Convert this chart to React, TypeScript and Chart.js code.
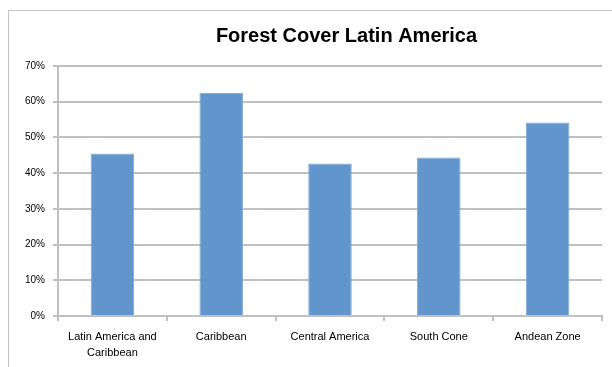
import React, { useEffect, useRef } from "react";
import { Chart, registerables } from "chart.js";

Chart.register(...registerables);

const categories: (string | string[])[] = [
  ["Latin America and", "Caribbean"],
  "Caribbean",
  "Central America",
  "South Cone",
  "Andean Zone",
];
const forestCover: number[] = [45.5, 62.5, 42.7, 44.4, 54.2];
const yTicks: number[] = [0, 10, 20, 30, 40, 50, 60, 70];

const GRID = "#c0c0c0";
const BAR = "#6195cb";
const FONT = "'Liberation Sans', Arial, sans-serif";

export default function App() {
  const ref = useRef<HTMLCanvasElement | null>(null);

  useEffect(() => {
    if (!ref.current) return;
    const chart = new Chart(ref.current, {
      type: "bar",
      data: {
        labels: categories,
        datasets: [
          {
            label: "Forest cover",
            data: forestCover,
            yAxisID: "y",
            backgroundColor: BAR,
            borderColor: "#7ea8d6",
            borderWidth: 1,
            barPercentage: 0.4,
            categoryPercentage: 1,
          },
        ],
      },
      options: {
        responsive: false,
        animation: false,
        layout: { padding: 0 },
        plugins: {
          legend: { display: false },
          tooltip: { enabled: false },
          title: {
            display: true,
            text: "Forest Cover Latin America",
            color: "#000",
            font: { family: FONT, size: 20, weight: "bold" },
            padding: { top: 13, bottom: 18 },
          },
        },
        scales: {
          x: {
            grid: {
              display: true,
              offset: true,
              drawOnChartArea: false,
              drawTicks: true,
              tickLength: 5,
              color: GRID,
              lineWidth: 2,
            },
            border: { display: true, color: GRID, width: 2 },
            ticks: {
              color: "#000",
              padding: 8,
              maxRotation: 0,
              autoSkip: false,
              font: { family: FONT, size: 11, lineHeight: 1.45 },
            },
            afterFit: (s: any) => {
              s.height = 51;
            },
          },
          y: {
            position: "left",
            min: 0,
            max: 70,
            afterBuildTicks: (s: any) => {
              s.ticks = yTicks.map((v) => ({ value: v }));
            },
            grid: {
              color: GRID,
              lineWidth: 2,
              drawTicks: true,
              tickLength: 5,
            },
            border: { display: true, color: GRID, width: 2 },
            ticks: {
              color: "#000",
              padding: 8,
              font: { family: FONT, size: 10 },
              callback: (v: any) => `${v}%`,
            },
            afterFit: (s: any) => {
              s.width = 49;
            },
          },
          // empty right-hand gutter so the plot stops short of the frame
          gutter: {
            type: "linear",
            position: "right",
            min: 0,
            max: 70,
            grid: { display: false },
            border: { display: false },
            ticks: { display: false },
            afterFit: (s: any) => {
              s.width = 82;
            },
          },
        },
      },
    });
    return () => chart.destroy();
  }, []);

  return (
    <div
      style={{
        position: "fixed",
        left: 8,
        top: 10,
        width: 604,
        height: 357,
        overflow: "hidden",
        borderLeft: "1px solid #c4c4c4",
        borderTop: "1px solid #c4c4c4",
        background: "#fff",
      }}
    >
      <canvas ref={ref} width={675} height={356} style={{ display: "block" }} />
    </div>
  );
}
